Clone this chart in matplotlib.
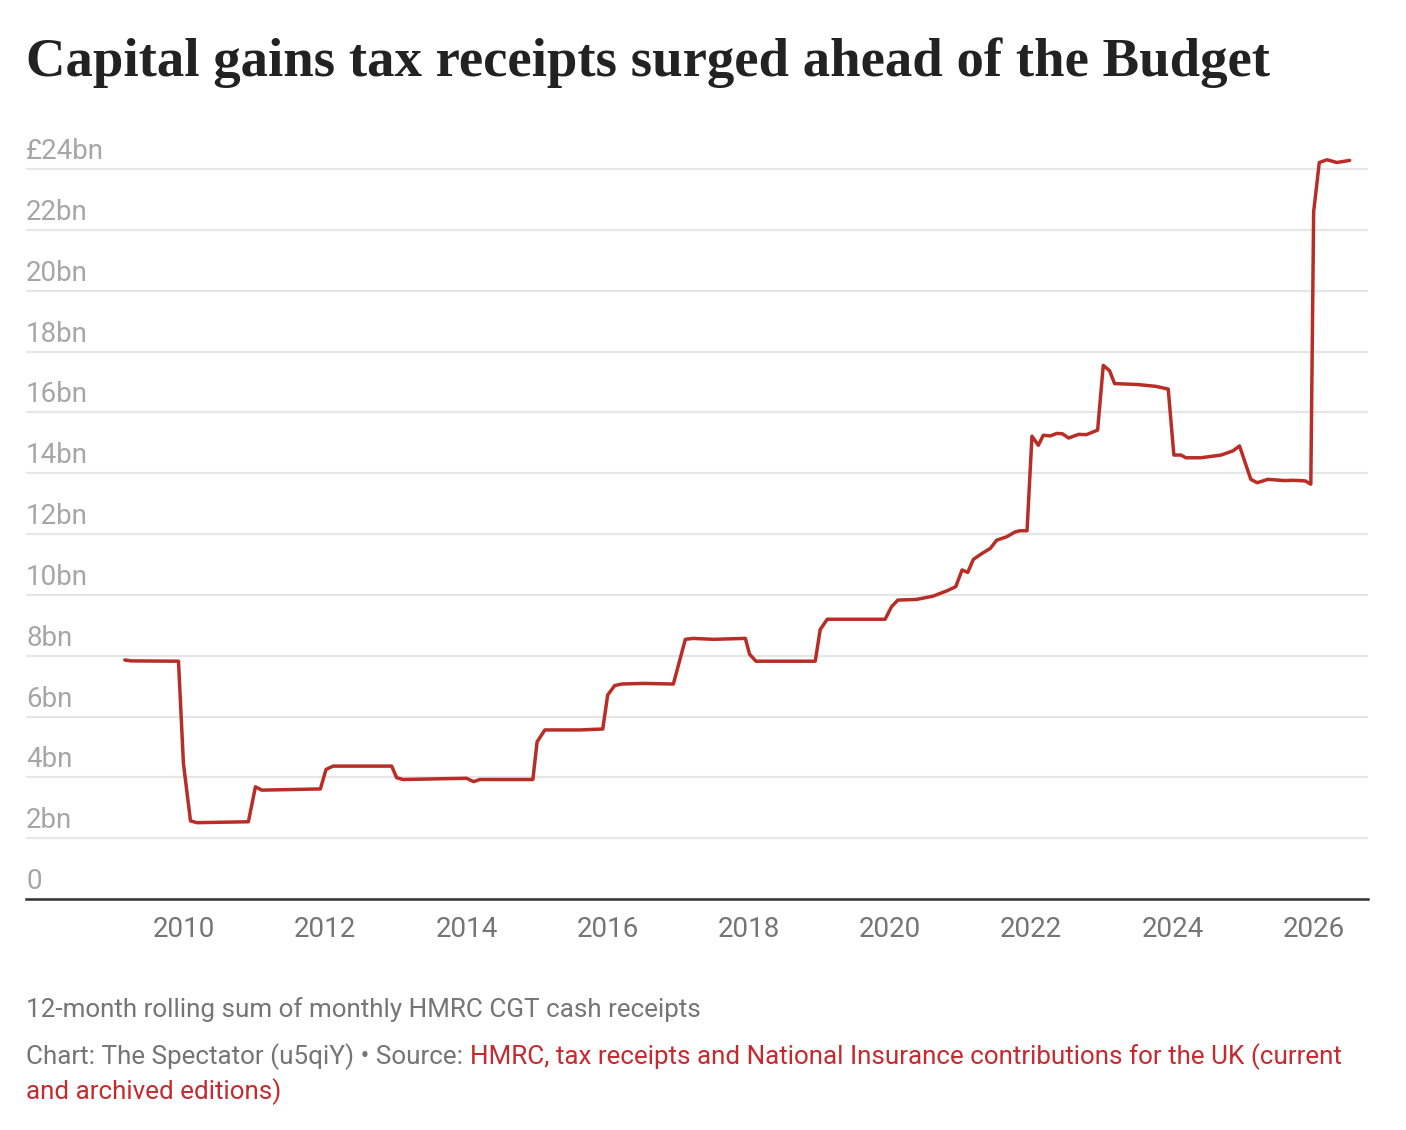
import matplotlib
matplotlib.use("Agg")
import matplotlib.pyplot as plt
from matplotlib import transforms

# vertices (fractional year, £bn, 12-month rolling sum)
years = [2009.16, 2009.25, 2009.92, 2009.99, 2010.09, 2010.18, 2010.91, 2011.01,
         2011.10, 2011.93, 2012.01, 2012.11, 2012.94, 2013.01, 2013.10, 2014.00,
         2014.10, 2014.19, 2014.94, 2015.00, 2015.11, 2015.61, 2015.93, 2016.00,
         2016.10, 2016.20, 2016.50, 2016.93, 2017.10, 2017.21, 2017.50, 2017.95,
         2018.01, 2018.10, 2018.94, 2019.01, 2019.11, 2019.93, 2020.02, 2020.11,
         2020.37, 2020.61, 2020.80, 2020.93, 2021.02, 2021.10, 2021.18, 2021.30,
         2021.42, 2021.51, 2021.65, 2021.77, 2021.84, 2021.94, 2022.01, 2022.10,
         2022.17, 2022.27, 2022.36, 2022.44, 2022.53, 2022.67, 2022.78, 2022.94,
         2023.02, 2023.11, 2023.18, 2023.50, 2023.76, 2023.94, 2024.02, 2024.12,
         2024.19, 2024.40, 2024.69, 2024.86, 2024.95, 2025.11, 2025.20, 2025.35,
         2025.59, 2025.71, 2025.88, 2025.96, 2026.00, 2026.08, 2026.19, 2026.33,
         2026.51]
receipts = [7.86, 7.83, 7.82, 4.46, 2.57, 2.51, 2.54, 3.69,
            3.58, 3.62, 4.26, 4.37, 4.37, 3.99, 3.93, 3.97,
            3.86, 3.93, 3.93, 5.17, 5.56, 5.56, 5.59, 6.71,
            7.02, 7.07, 7.09, 7.07, 8.54, 8.57, 8.54, 8.57,
            8.05, 7.82, 7.82, 8.86, 9.20, 9.20, 9.61, 9.83,
            9.85, 9.96, 10.13, 10.27, 10.82, 10.74, 11.17, 11.36,
            11.53, 11.80, 11.91, 12.07, 12.11, 12.11, 15.22, 14.92,
            15.25, 15.23, 15.31, 15.30, 15.16, 15.28, 15.27, 15.42,
            17.55, 17.37, 16.95, 16.92, 16.86, 16.77, 14.60, 14.60,
            14.51, 14.51, 14.60, 14.74, 14.90, 13.80, 13.69, 13.80,
            13.76, 13.77, 13.75, 13.64, 22.60, 24.22, 24.31, 24.22,
            24.29]

x_ticks = [2010, 2012, 2014, 2016, 2018, 2020, 2022, 2024, 2026]
y_ticks = [0, 2, 4, 6, 8, 10, 12, 14, 16, 18, 20, 22, 24]
y_labels = ["0"] + [f"{v}bn" for v in y_ticks[1:-1]] + ["£24bn"]

title = "Capital gains tax receipts surged ahead of the Budget"
note = "12-month rolling sum of monthly HMRC CGT cash receipts"
credit = "Chart: The Spectator (u5qiY) • Source: "
source_1 = "HMRC, tax receipts and National Insurance contributions for the UK (current"
source_2 = "and archived editions)"

RED = "#b82e27"
LINK = "#c62a2f"
GREY = "#757575"
LIGHT = "#a6a6a6"
TICK_FS = 20
NOTE_FS = 18.7

W, H = 1406, 1130
fig = plt.figure(figsize=(W / 100, H / 100), dpi=100)
fig.patch.set_facecolor("white")
ax = fig.add_axes([26 / W, 1 - 899 / H, (1368 - 26) / W, (899 - 154) / H])

ax.plot(years, receipts, color=RED, lw=2.5, solid_joinstyle="round",
        solid_capstyle="round", zorder=3)

ax.set_xlim(2007.76, 2026.77)
ax.set_ylim(0, 24.5)
ax.set_xticks(x_ticks)
ax.set_xticklabels([str(t) for t in x_ticks], fontsize=TICK_FS, color=GREY,
                   family="Roboto")
ax.tick_params(axis="x", length=0, pad=12)
ax.set_yticks(y_ticks)
ax.set_yticklabels([])
ax.tick_params(axis="y", length=0)
ax.grid(axis="y", color="#e6e6e6", lw=1.6)
ax.set_axisbelow(True)
for s in ["top", "right", "left"]:
    ax.spines[s].set_visible(False)
ax.spines["bottom"].set_color("#333333")
ax.spines["bottom"].set_linewidth(1.8)
ax.spines["bottom"].set_zorder(4)

# y labels sit above their gridlines, flush left
lab_tr = transforms.offset_copy(ax.get_yaxis_transform(), fig=fig, x=0, y=10,
                                units="dots")
for v, lab in zip(y_ticks, y_labels):
    ax.text(0, v, lab, transform=lab_tr, ha="left", va="baseline",
            fontsize=TICK_FS, color=LIGHT, family="Roboto")

fig.text(26 / W, 1 - 76 / H, title, fontsize=39.4, fontweight="bold",
         family="Liberation Serif", color="#222222", va="baseline")

fig.text(26 / W, 1 - 1017 / H, note, fontsize=NOTE_FS, color=GREY,
         family="Roboto", va="baseline")
t = fig.text(26 / W, 1 - 1064 / H, credit, fontsize=NOTE_FS, color=GREY,
             family="Roboto", va="baseline")
fig.canvas.draw()
bb = t.get_window_extent(fig.canvas.get_renderer())
fig.text(bb.x1 / W, 1 - 1064 / H, source_1, fontsize=NOTE_FS, color=LINK,
         family="Roboto", va="baseline")
fig.text(26 / W, 1 - 1099 / H, source_2, fontsize=NOTE_FS, color=LINK,
         family="Roboto", va="baseline")

fig.savefig("out.png", dpi=100, facecolor="white")
